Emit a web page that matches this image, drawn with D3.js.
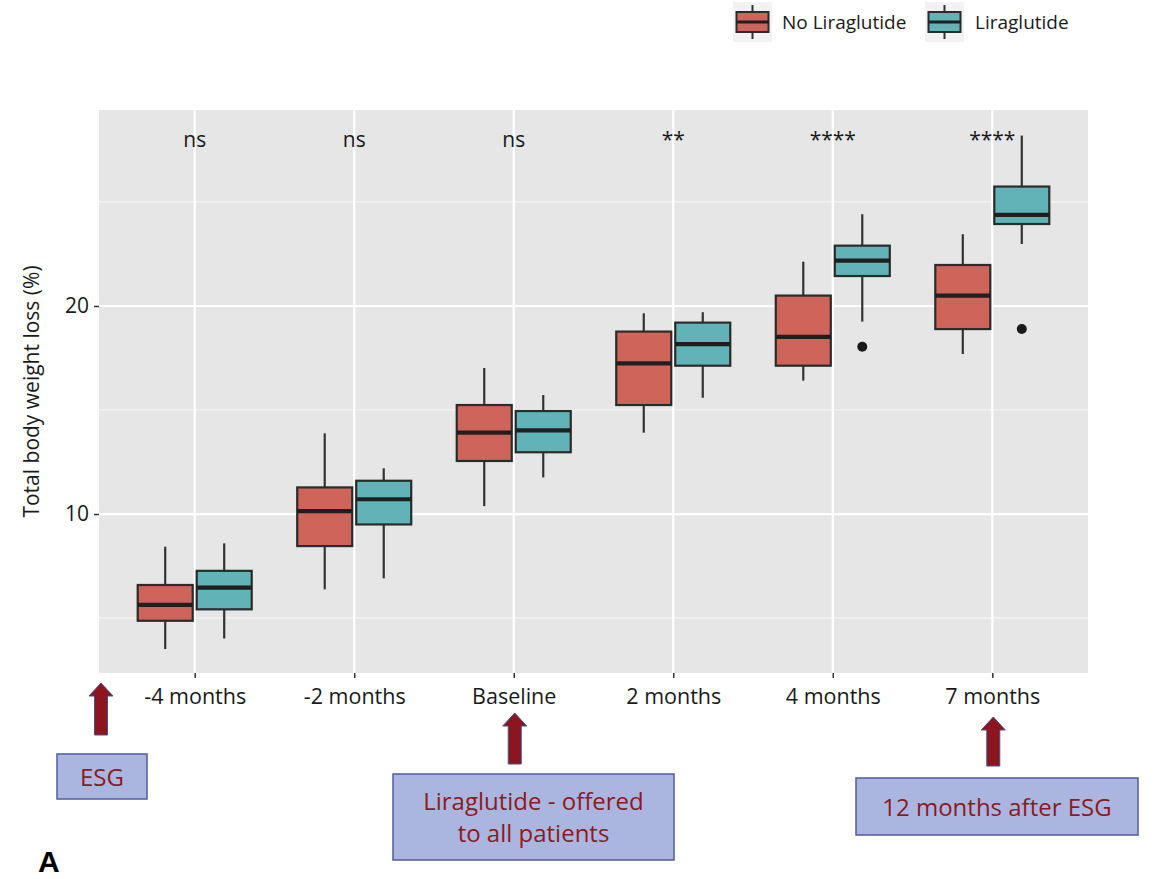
<!DOCTYPE html>
<html>
<head>
<meta charset="utf-8">
<script src="https://cdn.jsdelivr.net/npm/d3@7/dist/d3.min.js"></script>
<style>
  html, body { margin: 0; padding: 0; background: #ffffff; }
  svg { display: block; font-family: "Open Sans", "Noto Sans", sans-serif; }
</style>
</head>
<body>
<svg id="chart" width="1156" height="879"></svg>
<script>
// Time points after the procedure
const categories = ["-4 months", "-2 months", "Baseline", "2 months", "4 months", "7 months"];
const groups = ["No Liraglutide", "Liraglutide"];
const groupColors = ["#cf655a", "#62b3b7"];

// Box statistics per time point: lower whisker, Q1, median, Q3, upper whisker
const noLiraLow    = [3.51, 6.38, 10.38, 13.91, 16.41, 17.69];
const noLiraQ1     = [4.87, 8.46, 12.55, 15.24, 17.13, 18.89];
const noLiraMedian = [5.63, 10.14, 13.91, 17.24, 18.52, 20.50];
const noLiraQ3     = [6.59, 11.28, 15.24, 18.77, 20.50, 21.97];
const noLiraHigh   = [8.43, 13.88, 17.02, 19.65, 22.13, 23.45];
const noLiraOutliers = [[], [], [], [], [], []];

const liraLow    = [4.02, 6.91, 11.76, 15.59, 19.25, 22.98];
const liraQ1     = [5.42, 9.50, 12.97, 17.13, 21.44, 23.94];
const liraMedian = [6.46, 10.71, 14.02, 18.17, 22.18, 24.38];
const liraQ3     = [7.27, 11.60, 14.95, 19.20, 22.90, 25.74];
const liraHigh   = [8.59, 12.20, 15.72, 19.70, 24.41, 28.19];
const liraOutliers = [[], [], [], [], [18.04], [18.89]];

// Significance of the between-group comparison at each time point
const significance = ["ns", "ns", "ns", "**", "****", "****"];
const significanceY = 28.0;

const yTicks = [10, 20];
const yMinorTicks = [5, 15, 25];
const yTitle = "Total body weight loss (%)";

const svg = d3.select("#chart");

const panel = { left: 99, right: 1088, top: 110, bottom: 673 };

const x = d3.scalePoint()
  .domain(categories)
  .range([panel.left, panel.right])
  .padding(0.6);

const y = d3.scaleLinear()
  .domain([2.36, 29.42])
  .range([panel.bottom, panel.top]);

const dodge = [-29.5, 29.5];
const boxWidth = 55;

// Panel background and grid
svg.append("rect")
  .attr("x", panel.left).attr("y", panel.top)
  .attr("width", panel.right - panel.left)
  .attr("height", panel.bottom - panel.top)
  .attr("fill", "#e6e6e6");

const grid = svg.append("g");
grid.selectAll("line.minor").data(yMinorTicks).join("line")
  .attr("x1", panel.left).attr("x2", panel.right)
  .attr("y1", d => y(d)).attr("y2", d => y(d))
  .attr("stroke", "#f5f5f5").attr("stroke-width", 1.2);
grid.selectAll("line.major").data(yTicks).join("line")
  .attr("x1", panel.left).attr("x2", panel.right)
  .attr("y1", d => y(d)).attr("y2", d => y(d))
  .attr("stroke", "#ffffff").attr("stroke-width", 2.2);
grid.selectAll("line.vert").data(categories).join("line")
  .attr("x1", d => x(d)).attr("x2", d => x(d))
  .attr("y1", panel.top).attr("y2", panel.bottom)
  .attr("stroke", "#ffffff").attr("stroke-width", 2.2);

// Axes
const xAxis = svg.append("g")
  .attr("transform", `translate(0,${panel.bottom})`)
  .call(d3.axisBottom(x).tickSize(5).tickPadding(11));
xAxis.select(".domain").remove();
xAxis.selectAll(".tick line").attr("stroke", "#333").attr("stroke-width", 1.5);
xAxis.selectAll(".tick text")
  .attr("fill", "#1a1a1a")
  .style("font-size", "21.5px")
  .style("font-family", "'Open Sans', sans-serif");

const yAxis = svg.append("g")
  .attr("transform", `translate(${panel.left},0)`)
  .call(d3.axisLeft(y).tickValues(yTicks).tickSize(5).tickPadding(5));
yAxis.select(".domain").remove();
yAxis.selectAll(".tick line").attr("stroke", "#333").attr("stroke-width", 1.5);
yAxis.selectAll(".tick text")
  .attr("fill", "#1a1a1a")
  .style("font-size", "21px")
  .style("font-family", "'Open Sans', sans-serif");

svg.append("text")
  .attr("transform", `translate(39,${(panel.top + panel.bottom) / 2}) rotate(-90)`)
  .attr("text-anchor", "middle")
  .attr("fill", "#1a1a1a")
  .style("font-size", "21px")
  .text(yTitle);

// Box plots
const series = [
  { low: noLiraLow, q1: noLiraQ1, med: noLiraMedian, q3: noLiraQ3, high: noLiraHigh, out: noLiraOutliers },
  { low: liraLow, q1: liraQ1, med: liraMedian, q3: liraQ3, high: liraHigh, out: liraOutliers }
];

const boxData = [];
series.forEach((s, gi) => {
  categories.forEach((c, ci) => {
    boxData.push({
      cat: c, group: gi,
      low: s.low[ci], q1: s.q1[ci], med: s.med[ci], q3: s.q3[ci], high: s.high[ci],
      out: s.out[ci]
    });
  });
});

const boxes = svg.append("g").selectAll("g.box").data(boxData).join("g")
  .attr("transform", d => `translate(${x(d.cat) + dodge[d.group]},0)`);

boxes.append("line")
  .attr("x1", 0).attr("x2", 0)
  .attr("y1", d => y(d.high)).attr("y2", d => y(d.q3))
  .attr("stroke", "#333").attr("stroke-width", 2.2);
boxes.append("line")
  .attr("x1", 0).attr("x2", 0)
  .attr("y1", d => y(d.q1)).attr("y2", d => y(d.low))
  .attr("stroke", "#333").attr("stroke-width", 2.2);
boxes.append("rect")
  .attr("x", -boxWidth / 2).attr("width", boxWidth)
  .attr("y", d => y(d.q3)).attr("height", d => y(d.q1) - y(d.q3))
  .attr("fill", d => groupColors[d.group])
  .attr("stroke", "#2b2b2b").attr("stroke-width", 2.2);
boxes.append("line")
  .attr("x1", -boxWidth / 2).attr("x2", boxWidth / 2)
  .attr("y1", d => y(d.med)).attr("y2", d => y(d.med))
  .attr("stroke", "#1f1f1f").attr("stroke-width", 4.2);
boxes.selectAll("circle").data(d => d.out).join("circle")
  .attr("cx", 0).attr("cy", d => y(d)).attr("r", 5)
  .attr("fill", "#1a1a1a");

// Significance labels
svg.append("g").selectAll("text").data(categories).join("text")
  .attr("x", d => x(d))
  .attr("y", y(significanceY) + 7)
  .attr("text-anchor", "middle")
  .attr("fill", "#1a1a1a")
  .style("font-size", "21px")
  .text((d, i) => significance[i]);

// Legend
const legend = svg.append("g");
const legendItems = [
  { key: groups[0], color: groupColors[0], kx: 733, tx: 782 },
  { key: groups[1], color: groupColors[1], kx: 925, tx: 975 }
];
legendItems.forEach(it => {
  const g = legend.append("g").attr("transform", `translate(${it.kx},2)`);
  g.append("rect").attr("width", 39).attr("height", 40).attr("fill", "#f2f2f2");
  g.append("line").attr("x1", 19.5).attr("x2", 19.5).attr("y1", 3).attr("y2", 37)
    .attr("stroke", "#333").attr("stroke-width", 2);
  g.append("rect").attr("x", 3.5).attr("y", 10).attr("width", 32).attr("height", 20)
    .attr("fill", it.color).attr("stroke", "#2b2b2b").attr("stroke-width", 2);
  g.append("line").attr("x1", 3.5).attr("x2", 35.5).attr("y1", 20).attr("y2", 20)
    .attr("stroke", "#1f1f1f").attr("stroke-width", 3);
  legend.append("text")
    .attr("x", it.tx).attr("y", 29)
    .attr("fill", "#1a1a1a")
    .style("font-size", "19px")
    .text(it.key);
});

// Timeline annotations below the axis
const arrowFill = "#8c1520";
const noteFill = "#aab6e0";
const noteStroke = "#525c9c";
const noteText = "#8c1a1f";

function upArrow(cx, top, bottom) {
  const headH = 13, headW = 12, shaftW = 6.5;
  const p = d3.path();
  p.moveTo(cx, top);
  p.lineTo(cx + headW, top + headH);
  p.lineTo(cx + shaftW, top + headH);
  p.lineTo(cx + shaftW, bottom);
  p.lineTo(cx - shaftW, bottom);
  p.lineTo(cx - shaftW, top + headH);
  p.lineTo(cx - headW, top + headH);
  p.closePath();
  svg.append("path").attr("d", p.toString())
    .attr("fill", arrowFill).attr("stroke", "#4a4f86").attr("stroke-width", 1);
}

function note(x0, y0, w, h, lines, lineGap) {
  svg.append("rect").attr("x", x0).attr("y", y0).attr("width", w).attr("height", h)
    .attr("fill", noteFill).attr("stroke", noteStroke).attr("stroke-width", 1.5);
  const t = svg.append("text")
    .attr("text-anchor", "middle")
    .attr("fill", noteText)
    .style("font-size", "24px");
  const startY = y0 + h / 2 - (lines.length - 1) * lineGap / 2 + 9;
  lines.forEach((ln, i) => {
    t.append("tspan").attr("x", x0 + w / 2).attr("y", startY + i * lineGap).text(ln);
  });
}

upArrow(101, 683, 735);
note(57, 754, 90, 45, ["ESG"], 0);

upArrow(x("Baseline") + 1, 713, 764);
note(393, 774, 281, 86, ["Liraglutide - offered", "to all patients"], 32);

upArrow(x("7 months") + 1, 717, 766);
note(856, 778, 282, 57, ["12 months after ESG"], 0);

// Panel tag
svg.append("text")
  .attr("x", 38).attr("y", 872)
  .attr("fill", "#000")
  .style("font-size", "30px")
  .style("font-weight", "bold")
  .style("font-family", "'Liberation Sans', Arial, sans-serif")
  .text("A");
</script>
</body>
</html>
